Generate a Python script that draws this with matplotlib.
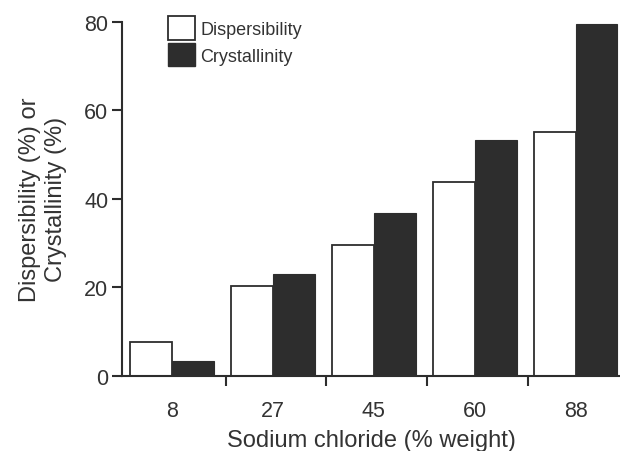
import numpy as np
import matplotlib.pyplot as plt
from matplotlib.patches import Patch

plt.rcParams['font.family'] = ['Liberation Sans', 'DejaVu Sans']

# data
nacl = ["8", "27", "45", "60", "88"]
dispersibility = [7.7, 20.3, 29.6, 43.8, 55.1]
crystallinity = [3.4, 23.0, 36.9, 53.3, 79.5]

dark = '#2d2d2d'
txt = '#333333'

fig = plt.figure(figsize=(6.2, 4.52), dpi=100)
ax = fig.add_axes([0.197, 0.166, 0.803, 0.784])

x = np.arange(len(nacl))
w = 0.415
ax.bar(x - w / 2, dispersibility, w, color='white', edgecolor=dark, linewidth=1.3)
ax.bar(x + w / 2, crystallinity, w, color=dark, edgecolor=dark, linewidth=0.8)

ax.set_xlim(-0.495, 4.44)
ax.set_ylim(0, 80)
ax.set_yticks([0, 20, 40, 60, 80])
ax.set_xticks(x)
ax.set_xticklabels(nacl)
ax.set_xticks(x[:-1] + 0.53, minor=True)
ax.tick_params(axis='x', which='major', length=0, pad=17, labelsize=15.5, colors=txt)
ax.tick_params(axis='x', which='minor', length=7, width=1.5, color=dark, direction='out')
ax.tick_params(axis='y', length=7, width=1.5, color=dark, labelsize=15.5, labelcolor=txt, pad=3)

for s in ['top', 'right']:
    ax.spines[s].set_visible(False)
for s in ['left', 'bottom']:
    ax.spines[s].set_linewidth(1.5)
    ax.spines[s].set_color(dark)

ax.set_xlabel("Sodium chloride (% weight)", fontsize=17, color=txt, labelpad=6)
ax.set_ylabel("Dispersibility (%) or\nCrystallinity (%)", fontsize=17, color=txt,
              labelpad=12, linespacing=1.25)

handles = [Patch(facecolor='white', edgecolor=dark, linewidth=1.3, label='Dispersibility'),
           Patch(facecolor=dark, edgecolor=dark, label='Crystallinity')]
leg = ax.legend(handles=handles, loc='upper left', bbox_to_anchor=(0.077, 1.035), frameon=False,
                fontsize=13, handlelength=1.5, handleheight=1.6, handletextpad=0.3,
                labelspacing=0.2, borderaxespad=0)
for t in leg.get_texts():
    t.set_color(txt)

fig.savefig('out.png', dpi=100)
